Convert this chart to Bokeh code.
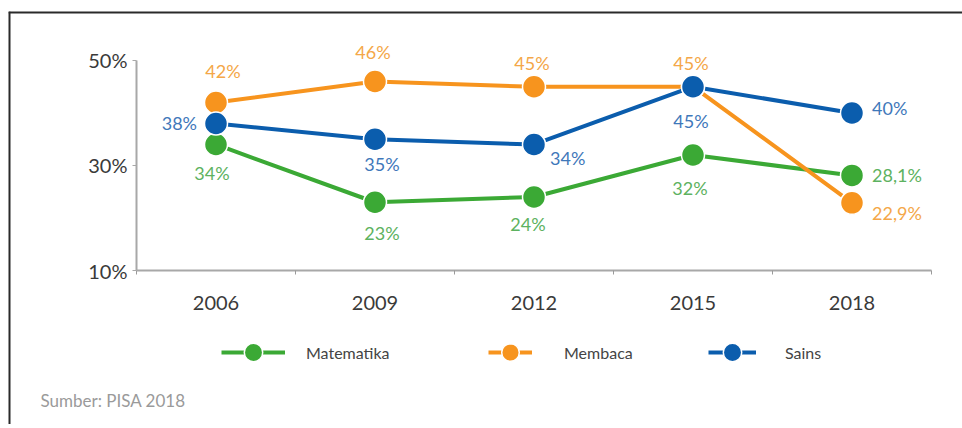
from bokeh.plotting import figure
from bokeh.models import (FixedTicker, Range1d, Legend, LegendItem, Label, Span, ColumnDataSource)
from bokeh.core.properties import value
from bokeh.embed import file_html
from bokeh.resources import INLINE

# ---- data ----
years = ["2006", "2009", "2012", "2015", "2018"]
matematika = [34, 23, 24, 32, 28.1]
membaca = [42, 46, 45, 45, 22.9]
sains = [38, 35, 34, 45, 40]
matematika_labels = ["34%", "23%", "24%", "32%", "28,1%"]
membaca_labels = ["42%", "46%", "45%", "45%", "22,9%"]
sains_labels = ["38%", "35%", "34%", "45%", "40%"]
y_ticks = [10, 30, 50]
y_tick_labels = ["10%", "30%", "50%"]
source_note = "Sumber: PISA 2018"

# ---- styles ----
FONT = "Lato"
GREEN, ORANGE, BLUE = "#3BA935", "#F7941E", "#0B5DAD"
GREEN_T, ORANGE_T, BLUE_T = "#5DB260", "#F4A748", "#3F78BA"

green_place = dict(dx=[-4, 7, -6, -3, 20], dy=[29, 31, 27, 33, 0],
                   align=["center", "center", "center", "center", "left"])
orange_place = dict(dx=[7, -2, -2, -2, 20], dy=[-31, -29, -24, -24, 10],
                    align=["center", "center", "center", "center", "left"])
blue_place = dict(dx=[-19, 7, 16, -2, 20], dy=[0, 25, 14, 34, -5],
                  align=["right", "center", "left", "center", "left"])

xs = [i + 0.5 for i in range(len(years))]

p = figure(width=962, height=424, output_backend="svg", toolbar_location=None, tools="",
           x_range=Range1d(-0.805, 5.195), y_range=Range1d(-19.33, 59.33),
           min_border_left=8, min_border_right=0, min_border_top=11, min_border_bottom=0,
           background_fill_color="white", border_fill_color="white", outline_line_color=None)
p.grid.visible = False
p.title.visible = False
p.toolbar.logo = None

# picture border (top and left edges)
p.add_layout(Span(location=p.y_range.end, dimension="width", line_color="#2a2a2a", line_width=4))
p.add_layout(Span(location=p.x_range.start, dimension="height", line_color="#2a2a2a", line_width=4))

series = [
    ("Matematika", matematika, matematika_labels, GREEN, GREEN_T, green_place),
    ("Membaca", membaca, membaca_labels, ORANGE, ORANGE_T, orange_place),
    ("Sains", sains, sains_labels, BLUE, BLUE_T, blue_place),
]

lines = {}
for name, vals, labs, col, tcol, place in series:
    lines[name] = p.line(xs, vals, line_color=col, line_width=4)

dots = {}
for name, vals, labs, col, tcol, place in series:
    dots[name] = p.scatter(xs, vals, size=23, fill_color=col, line_color="white", line_width=1.5)

for name, vals, labs, col, tcol, place in series:
    src = ColumnDataSource(dict(x=xs, y=vals, t=labs, dx=place["dx"], dy=place["dy"], a=place["align"]))
    p.text(x="x", y="y", text="t", x_offset="dx", y_offset="dy", text_align="a",
           text_baseline="middle", text_color=tcol, text_font=value(FONT),
           text_font_size="18px", source=src)

# x axis (drawn inside the frame at y = 10)
xa = p.xaxis[0]
xa.fixed_location = y_ticks[0]
xa.ticker = FixedTicker(ticks=xs, minor_ticks=list(range(len(years) + 1)))
xa.major_label_overrides = {x: y for x, y in zip(xs, years)}
xa.bounds = (0, len(years))
xa.major_tick_line_color = None
xa.minor_tick_line_color = "#9a9a9a"
xa.minor_tick_out = 4
xa.minor_tick_in = 0
xa.axis_line_color = "#a8a8a8"
xa.axis_line_width = 2
xa.major_label_standoff = 19
xa.major_label_text_font = FONT
xa.major_label_text_font_size = "20px"
xa.major_label_text_color = "#3a3a3a"

ya = p.yaxis[0]
ya.fixed_location = 0
ya.ticker = FixedTicker(ticks=y_ticks, minor_ticks=[])
ya.major_label_overrides = {t: l for t, l in zip(y_ticks, y_tick_labels)}
ya.bounds = (y_ticks[0], y_ticks[-1])
ya.axis_line_color = "#a8a8a8"
ya.axis_line_width = 2
ya.major_tick_line_color = "#a8a8a8"
ya.major_tick_out = 4
ya.major_tick_in = 0
ya.minor_tick_line_color = None
ya.major_label_standoff = 5
ya.major_label_text_font = FONT
ya.major_label_text_font_size = "20px"
ya.major_label_text_color = "#3a3a3a"

# legends (one per item, placed individually)
leg_specs = [("Matematika", 213, 64, 21), ("Membaca", 480, 44, 32), ("Sains", 700, 48, 29)]
for name, lx, gw, standoff in leg_specs:
    leg = Legend(items=[LegendItem(label=name, renderers=[lines[name], dots[name]])],
                 location=(lx, 49), orientation="horizontal",
                 glyph_width=gw, glyph_height=46, label_height=46, label_standoff=standoff,
                 padding=0, margin=0, spacing=0, border_line_color=None,
                 background_fill_alpha=0, label_text_font=FONT,
                 label_text_font_size="16px", label_text_color="#444444")
    p.add_layout(leg, "center")

p.add_layout(Label(x=32, y=24, x_units="screen", y_units="screen", text=source_note,
                   text_font=FONT, text_font_size="17px", text_color="#9a9a9a",
                   text_baseline="middle"))

open("out.html", "w").write(file_html(p, INLINE))
